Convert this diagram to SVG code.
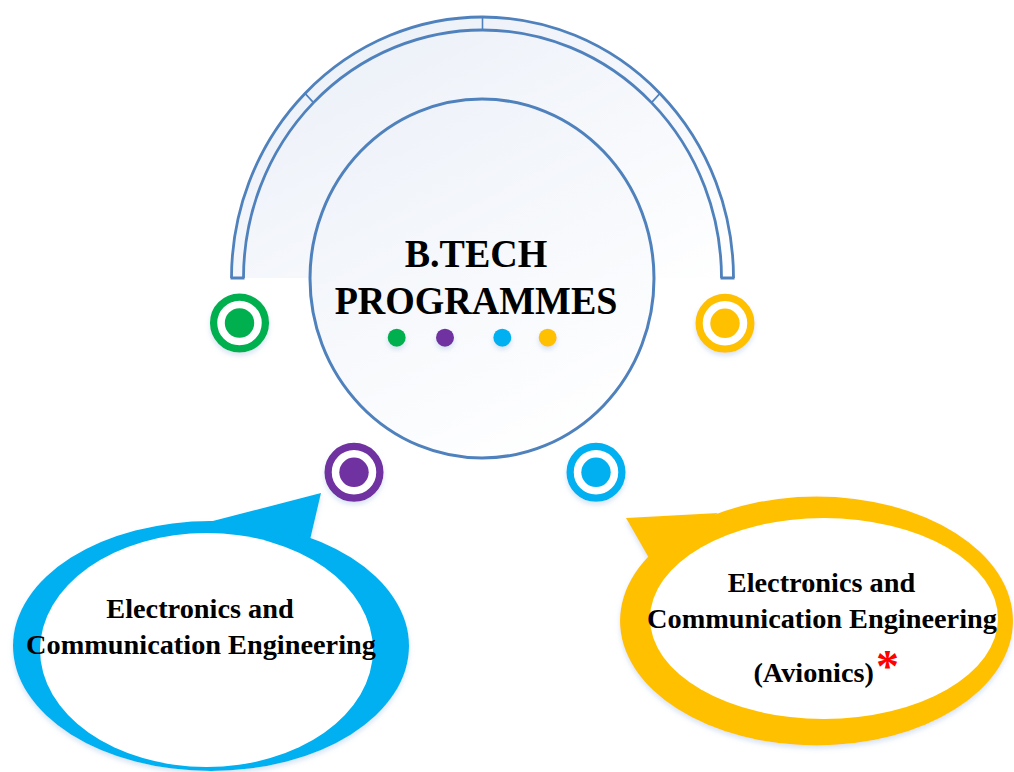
<svg xmlns="http://www.w3.org/2000/svg" width="1014" height="772" viewBox="0 0 1014 772">
<defs>
  <linearGradient id="arcFill" x1="0" y1="0" x2="1" y2="1">
    <stop offset="0" stop-color="#e9eef7"/>
    <stop offset="1" stop-color="#ffffff"/>
  </linearGradient>
  <linearGradient id="hubFill" x1="0.2" y1="0" x2="0.7" y2="1">
    <stop offset="0" stop-color="#eef2f9"/>
    <stop offset="1" stop-color="#ffffff"/>
  </linearGradient>
  <filter id="shadow" x="-20%" y="-20%" width="140%" height="150%">
    <feDropShadow dx="0" dy="3" stdDeviation="2.5" flood-color="#8fb0d8" flood-opacity="0.35"/>
  </filter>
</defs>
<style>
  .line{fill:none;stroke:#4f81bd;stroke-width:2.8}
  .tick{fill:none;stroke:#4f81bd;stroke-width:1.6}
  .title{font-family:"Liberation Serif","Times New Roman",serif;font-weight:bold;font-size:38px;fill:#000;text-anchor:middle}
  .label{font-family:"Liberation Serif","Times New Roman",serif;font-weight:bold;font-size:28.3px;fill:#000;text-anchor:middle}
  .ringS{stroke-width:7.3;fill:#ffffff}
  .white{fill:#ffffff}
</style>

<g id="arc">
  <path d="M231.5,278 A251,261 0 0 1 733.5,278 Z" fill="url(#arcFill)"/>
  <path class="line" d="M231.5,278 A251,261 0 0 1 733.5,278"/>
  <path class="line" d="M243.5,278 A239,248 0 0 1 721.5,278"/>
  <path class="line" d="M230.5,278 H244.5 M720.5,278 H734.5"/>
  <path class="tick" d="M482.5,18 V30 M305,93.4 L313.5,102.6 M660,93.4 L651.5,102.6"/>
</g>

<g id="hub">
  <ellipse cx="482" cy="278.5" rx="172" ry="179.5" fill="url(#hubFill)" stroke="#4f81bd" stroke-width="3"/>
  <text class="title" transform="translate(476,267) scale(1,1.06)">B.TECH</text>
  <text class="title" transform="translate(476,313.5) scale(1,1.06)">PROGRAMMES</text>
  <g filter="url(#shadow)">
    <circle cx="396.7" cy="337.7" r="9" fill="#00b050"/>
    <circle cx="445" cy="337.7" r="9" fill="#7030a0"/>
    <circle cx="502.3" cy="337.7" r="9" fill="#00b0f0"/>
    <circle cx="547.7" cy="337.7" r="9" fill="#ffc000"/>
  </g>
</g>

<g id="ring-green" filter="url(#shadow)">
  <circle class="ringS" cx="239.5" cy="323" r="25.9" stroke="#00b050"/>
  <circle cx="239.5" cy="323" r="14.7" fill="#00b050"/>
</g>
<g id="ring-yellow" filter="url(#shadow)">
  <circle class="ringS" cx="725" cy="323.3" r="25.9" stroke="#ffc000"/>
  <circle cx="725" cy="323.3" r="14.7" fill="#ffc000"/>
</g>
<g id="ring-purple" filter="url(#shadow)">
  <circle class="ringS" cx="354" cy="472.3" r="25.9" stroke="#7030a0"/>
  <circle cx="354" cy="472.3" r="14.7" fill="#7030a0"/>
</g>
<g id="ring-blue" filter="url(#shadow)">
  <circle class="ringS" cx="596" cy="472.3" r="25.9" stroke="#00b0f0"/>
  <circle cx="596" cy="472.3" r="14.7" fill="#00b0f0"/>
</g>

<g id="bubble-ece">
  <g filter="url(#shadow)">
    <polygon points="205,523 321,493 310,540" fill="#00b0f0"/>
    <ellipse cx="211" cy="646" rx="198" ry="125" fill="#00b0f0"/>
  </g>
  <ellipse cx="206.5" cy="650" rx="166.5" ry="117" class="white"/>
  <text class="label" x="200" y="618">Electronics and</text>
  <text class="label" x="201" y="654">Communication Engineering</text>
</g>

<g id="bubble-avionics">
  <g filter="url(#shadow)">
    <polygon points="626,518 718,513 650,560" fill="#ffc000"/>
    <ellipse cx="816.5" cy="621" rx="196.5" ry="124.5" fill="#ffc000"/>
  </g>
  <ellipse cx="824" cy="618.5" rx="174" ry="100.5" class="white"/>
  <text class="label" x="821.5" y="592.3">Electronics and</text>
  <text class="label" x="822" y="628.3">Communication Engineering</text>
  <text class="label" x="813.7" y="682.3">(Avionics)</text>
  <text x="876" y="682" font-family="Liberation Serif, serif" font-weight="bold" font-size="46" fill="#ff0000">*</text>
</g>
</svg>
